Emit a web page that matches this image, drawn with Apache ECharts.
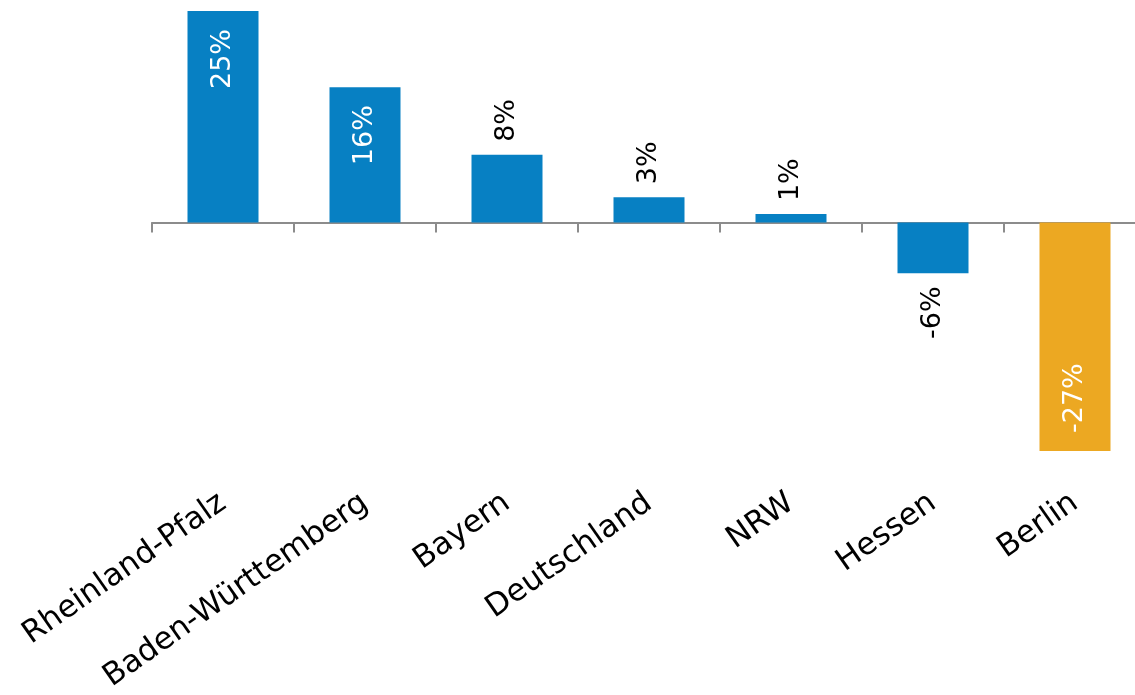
<!DOCTYPE html>
<html>
<head>
<meta charset="utf-8">
<script src="https://cdn.jsdelivr.net/npm/echarts@6/dist/echarts.min.js"></script>
<style>
  html, body { margin: 0; padding: 0; background: #fff; overflow: hidden; }
  /* the last category runs slightly past the right edge of the window */
  #chart { width: 1146px; height: 695px; }
</style>
</head>
<body>
<div id="chart"></div>
<script>
// Regions and their percentage change
const categories = ['Rheinland-Pfalz', 'Baden-Württemberg', 'Bayern', 'Deutschland', 'NRW', 'Hessen', 'Berlin'];
const values = [25, 16, 8, 3, 1, -6, -27];
// Bars whose label sits inside the bar (white text)
const insideLabel = [true, true, false, false, false, false, true];
const highlighted = 'Berlin';

const BLUE = '#0780c3';
const ORANGE = '#eca822';
const FONT = '"DejaVu Sans", Verdana, sans-serif';

const barData = values.map((v, i) => {
  const inside = insideLabel[i];
  const neg = v < 0;
  let position, align;
  if (inside) {
    position = neg ? 'insideBottom' : 'insideTop';
    align = neg ? 'left' : 'right';
  } else {
    position = neg ? 'bottom' : 'top';
    align = neg ? 'right' : 'left';
  }
  return {
    value: v,
    itemStyle: { color: categories[i] === highlighted ? ORANGE : BLUE },
    label: {
      show: true,
      position: position,
      rotate: 90,
      align: align,
      verticalAlign: 'middle',
      distance: inside ? 18 : 13,
      color: inside ? '#ffffff' : '#000000',
      fontFamily: FONT,
      fontSize: 27,
      formatter: (p) => p.value + '%'
    }
  };
});

const chart = echarts.init(document.getElementById('chart'), null, { renderer: 'canvas' });
chart.setOption({
  animation: false,
  backgroundColor: '#ffffff',
  grid: { left: 152, right: 0, top: 11, bottom: 244, containLabel: false },
  xAxis: [
    {
      // category names along the bottom
      type: 'category',
      data: categories,
      position: 'bottom',
      axisLine: { show: false, onZero: false },
      axisTick: { show: false },
      axisLabel: {
        rotate: 35,
        margin: 49,
        interval: 0,
        color: '#000000',
        fontFamily: FONT,
        fontSize: 31
      }
    },
    {
      // baseline at zero with tick marks
      type: 'category',
      data: categories,
      position: 'bottom',
      axisLine: { show: true, onZero: true, lineStyle: { color: '#8c8c8c', width: 2 } },
      axisTick: { show: true, interval: 0, length: 10, lineStyle: { color: '#8c8c8c', width: 2 } },
      axisLabel: { show: false, interval: 0 }
    }
  ],
  yAxis: {
    type: 'value',
    min: -27,
    max: 25,
    show: false,
    splitLine: { show: false }
  },
  series: [{
    type: 'bar',
    xAxisIndex: 0,
    data: barData,
    barWidth: '50%'
  }]
});
</script>
</body>
</html>
